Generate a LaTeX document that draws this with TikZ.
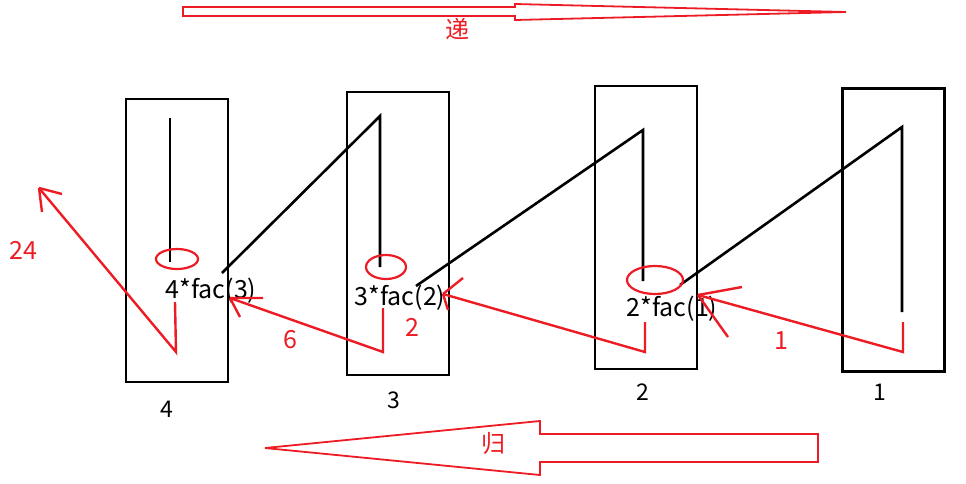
\documentclass[tikz,border=0pt]{standalone}
\usepackage{fontspec}
\setmainfont{Noto Sans CJK SC}
\usepackage{tikz}
\usetikzlibrary{arrows.meta, positioning, shapes.geometric}
\definecolor{paintred}{RGB}{237,28,36}

\begin{document}
\begin{tikzpicture}[
                x=1pt, y=-1pt,
                stackbox/.style={draw, rectangle, line width=2.4pt, minimum width=102pt, minimum height=283pt, inner sep=0pt},
                calltext/.style={anchor=base, inner sep=0pt, font=\fontsize{25}{30}\selectfont},
                retnum/.style={anchor=base, inner sep=0pt, text=paintred, font=\fontsize{25}{30}\selectfont},
                boxnum/.style={anchor=base, inner sep=0pt, font=\fontsize{23}{27}\selectfont},
                redring/.style={draw=paintred, ellipse, line width=2.2pt, inner sep=0pt},
                callline/.style={line width=2.6pt},
                retline/.style={draw=paintred, line width=2.4pt},
                bigarrow/.style={draw=paintred, line width=1.8pt, line join=miter},
                hanzi/.style={text=paintred, inner sep=0pt, font=\fontsize{24}{28}\selectfont}
            ]

            \useasboundingbox (0,0) rectangle (966,483);

            % Les quatre cadres
            \node[stackbox] (b4) at (177,240.5) {};
            \node[stackbox] (b3) at (398,233.5) {};
            \node[stackbox] (b2) at (646,227.5) {};
            \node[stackbox] (b1) at (893.5,230) {};

            % Numeros sous les cadres
            \node[boxnum] (n4) at (167,417) {4};
            \node[boxnum] (n3) at (394,408) {3};
            \node[boxnum] (n2) at (643,400) {2};
            \node[boxnum] (n1) at (880,400) {1};

            % Les appels
            \node[calltext] (c4) at (211,298) {4*fac(3)};
            \node[calltext] (c3) at (400,305) {3*fac(2)};
            \node[calltext] (c2) at (672,316) {2*fac(1)};

            % Descente
            \coordinate (t4) at (170,118);
            \coordinate (f4) at (170,262);
            \coordinate (s4) at (222,273);
            \coordinate (t3) at (380,116);
            \coordinate (f3) at (380,267);
            \coordinate (s3) at (416,286);
            \coordinate (t2) at (643,130);
            \coordinate (f2) at (643,281);
            \coordinate (s2) at (680,285);
            \coordinate (t1) at (902,127);
            \coordinate (f1) at (902,312);
            \draw[callline] (t4) -- (f4);
            \draw[callline] (s4) -- (t3) -- (f3);
            \draw[callline] (s3) -- (t2) -- (f2);
            \draw[callline] (s2) -- (t1) -- (f1);

            % Les ellipses
            \node[redring, minimum width=42pt, minimum height=20pt] (e4) at (177,259) {};
            \node[redring, minimum width=40pt, minimum height=24pt] (e3) at (386,267) {};
            \node[redring, minimum width=56pt, minimum height=28pt] (e2) at (655,280) {};

            % Remontee
            \coordinate (u4) at (175,302);
            \coordinate (d4) at (176,352);
            \coordinate (h4) at (39,188);
            \coordinate (u3) at (383,308);
            \coordinate (d3) at (383,352);
            \coordinate (h3) at (230,298);
            \coordinate (u2) at (645,322);
            \coordinate (d2) at (645,352);
            \coordinate (h2) at (443,294);
            \coordinate (u1) at (903,322);
            \coordinate (d1) at (903,352);
            \coordinate (h1) at (698,295);
            \draw[retline] (u4) -- (d4) -- (h4);
            \draw[retline] (h4) -- ++(23,6) (h4) -- ++(3,24);
            \draw[retline] (u3) -- (d3) -- (h3);
            \draw[retline] (h3) -- ++(33,0) (h3) -- ++(10,19);
            \draw[retline] (u2) -- (d2) -- (h2);
            \draw[retline] (h2) -- ++(20,-16) (h2) -- ++(5,16);
            \draw[retline] (u1) -- (d1) -- (h1);
            \draw[retline] (h1) -- ++(44,-8) (h1) -- ++(30,42);

            % Valeurs retournees
            \node[retnum] (v24) at (23,259) {24};
            \node[retnum] (v6) at (290,348) {6};
            \node[retnum] (v2) at (412,336) {2};
            \node[retnum] (v1) at (781,349) {1};

            % Grandes fleches
            \draw[bigarrow] (183,7) -- (515,7) -- (515,4) -- (846,12) -- (515,20) -- (515,16) -- (183,16) -- cycle;
            \node[hanzi] (di) at (457,29) {递};
            \draw[bigarrow] (818,434) -- (540,434) -- (540,421) -- (265,448) -- (540,475) -- (540,462) -- (818,462) -- cycle;
            \node[hanzi] (gui) at (493,443) {归};
        \end{tikzpicture}
\end{document}
